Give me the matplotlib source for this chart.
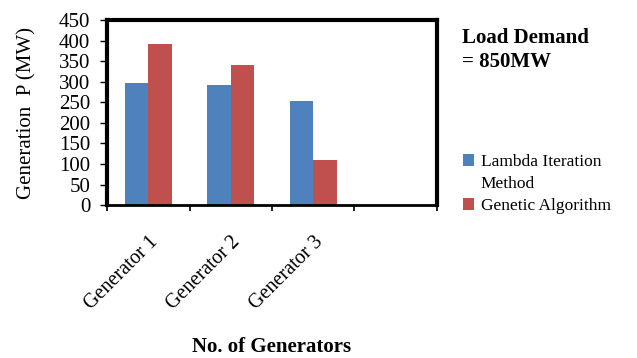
import matplotlib.pyplot as plt
from matplotlib.patches import Patch
import numpy as np

# Generator outputs (MW) for each dispatch method
generators = ['Generator 1', 'Generator 2', 'Generator 3', '']
lambda_iter = [298, 293, 252]
genetic_alg = [392, 340, 110]
y_ticks = [0, 50, 100, 150, 200, 250, 300, 350, 400, 450]

plt.rcParams['font.family'] = ['Liberation Serif', 'DejaVu Serif']

fig = plt.figure(figsize=(6.37, 3.58), dpi=100)
ax = fig.add_axes([0.168, 0.427, 0.518, 0.517])

w = 0.285
x = np.arange(len(lambda_iter))
b1 = ax.bar(x - w / 2, lambda_iter, w, color='#4F81BD')
b2 = ax.bar(x + w / 2, genetic_alg, w, color='#C0504D')

ax.set_xlim(-0.5, len(generators) - 0.5)
ax.set_ylim(0, 450)
ax.set_yticks(y_ticks)
ax.tick_params(axis='y', length=5, width=1, direction='out', labelsize=15, pad=7)

# tick marks between categories, labels at category centres
ax.set_xticks(np.arange(len(generators) + 1) - 0.5)
ax.set_xticklabels([])
ax.tick_params(axis='x', which='major', length=4, width=1.2, direction='out')
ax.set_xticks(np.arange(len(generators)), minor=True)
ax.set_xticklabels(generators, minor=True, rotation=45, ha='right',
                   rotation_mode='anchor', fontsize=14.5)
ax.tick_params(axis='x', which='minor', length=0, pad=20)

for s in ['top', 'right', 'left']:
    ax.spines[s].set_linewidth(3)
ax.spines['bottom'].set_linewidth(2)

ax.set_ylabel('Generation  P (MW)', fontsize=15, labelpad=16)
fig.text(0.427, 0.03, 'No. of Generators', ha='center', va='center',
         fontsize=15, fontweight='bold')

fig.text(0.726, 0.894, 'Load Demand', ha='left', va='center',
         fontsize=15, fontweight='bold')
fig.text(0.726, 0.828, '= 850MW', ha='left', va='center',
         fontsize=15, fontweight='bold')

# legend: the long label wraps onto a second line under its own key
blank = Patch(facecolor='none', edgecolor='none')
fig.legend([b1, blank, b2], ['Lambda Iteration', 'Method', 'Genetic Algorithm'],
           loc='upper left', bbox_to_anchor=(0.713, 0.594), frameon=False,
           fontsize=12.5, handlelength=0.63, handleheight=0.63, handletextpad=0.4,
           labelspacing=0.35, borderpad=0)

fig.savefig('out.png', dpi=100)
